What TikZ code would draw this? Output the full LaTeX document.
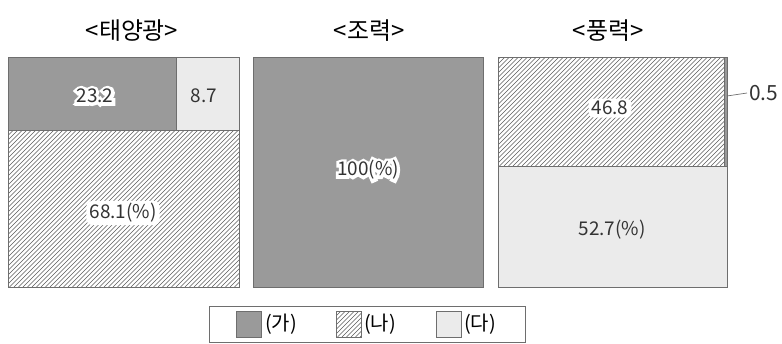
\documentclass[tikz,border=0pt]{standalone}
\usepackage{fontspec}
\setmainfont{Noto Sans CJK KR}
\newfontfamily\halofont{Noto Sans CJK KR}[FakeBold=32]
\definecolor{darkfill}{HTML}{9A9A9A}
\definecolor{lightfill}{HTML}{EBEBEB}
\definecolor{edge}{HTML}{6E6E6E}
\definecolor{hatch}{HTML}{5A5A5A}
\definecolor{txt}{HTML}{333333}
\tikzset{
  box/.style={draw=edge, line width=0.9bp},
  darkbox/.style={box, fill=darkfill},
  lightbox/.style={box, fill=lightfill},
  hatchline/.style={draw=hatch, line width=0.55bp},
  lab/.style={inner sep=0pt, font=\fontsize{19}{19}\selectfont, text=txt},
  halo/.style={inner sep=0pt, font=\halofont\fontsize{19}{19}\selectfont, text=white},
  blob/.style={fill=white, rounded corners=5bp, inner xsep=3bp, inner ysep=2.5bp},
  ttl/.style={inner sep=0pt, font=\fontsize{24}{24}\selectfont, text=black},
  leg/.style={inner sep=0pt, font=\fontsize{20}{20}\selectfont, text=black, anchor=west},
}
\newcommand\hatchrect[4]{% x1 y1 x2 y2 (y down)
  \begin{scope}
    \clip (#1,#2) rectangle (#3,#4);
    \foreach \k in {-300,-295.5,...,300}{%
      \draw[hatchline] ({#1+\k},#4) -- ++(300,-300);
    }
  \end{scope}}
\begin{document}
\begin{tikzpicture}[x=1bp,y=-1bp]
  \useasboundingbox (0,0) rectangle (782,343);
  % titles
  \node[ttl] (t1) at (132,31) {<태양광>};
  \node[ttl] (t2) at (369,31) {<조력>};
  \node[ttl] (t3) at (608,31) {<풍력>};
  % panel 1
  \path[fill=darkfill] (8,57) rectangle (176,130);
  \path[fill=lightfill] (176,57) rectangle (239,130);
  \hatchrect{8}{130}{239}{287}
  \draw[box] (8,57) rectangle (239,287);
  \draw[box] (8,130) -- (239,130);
  \draw[box] (176,57) -- (176,130);
  \node[halo] (a1h) at (95,96) {23.2};
  \node[lab] (a1) at (95,96) {23.2};
  \node[lab] (a2) at (204,96) {8.7};
  \node[lab,blob] (a3) at (123,213) {68.1(\%)};
  % panel 2
  \draw[darkbox] (253,57) rectangle (483,287);
  \node[halo] (b1h) at (368,170) {100(\%)};
  \node[lab] (b1) at (368,170) {100(\%)};
  % panel 3
  \path[fill=lightfill] (498,166) rectangle (727,287);
  \hatchrect{498}{57}{724}{166}
  \path[fill=darkfill] (724,57) rectangle (727,166);
  \draw[box] (498,57) rectangle (727,287);
  \draw[box] (498,166) -- (727,166);
  \draw[box] (724,57) -- (724,166);
  \node[lab,blob] (c1) at (610,108) {46.8};
  \node[lab] (c2) at (612,230) {52.7(\%)};
  \node[lab,anchor=west,font=\fontsize{21}{21}\selectfont] (c3) at (749,93) {0.5};
  \coordinate (tk) at (727,96);
  \draw[edge, line width=0.7bp] (tk) -- ([xshift=-2bp]c3.west);
  % legend
  \draw[draw=edge, line width=0.9bp, fill=white] (209,306) rectangle (525,342);
  \draw[darkbox] (236,311) rectangle (261,337);
  \node[leg] (l1) at (265,324) {(가)};
  \hatchrect{336}{311}{361}{337}
  \draw[box] (336,311) rectangle (361,337);
  \node[leg] (l2) at (364,324) {(나)};
  \draw[lightbox] (436,311) rectangle (461,337);
  \node[leg] (l3) at (464,324) {(다)};
\end{tikzpicture}
\end{document}
